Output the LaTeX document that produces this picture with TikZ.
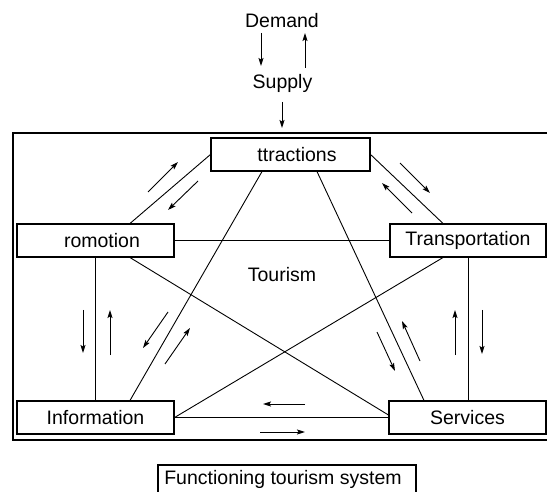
\documentclass[tikz,border=0pt]{standalone}
\usepackage{fontspec}
\setmainfont{Liberation Sans}
\usetikzlibrary{arrows.meta}
\begin{document}
\begin{tikzpicture}[x=1pt,y=-1pt,
  every node/.style={font=\fontsize{19.5}{22}\selectfont, inner sep=0pt},
  sysbox/.style={draw, line width=1.1pt, minimum height=33pt},
  link/.style={line width=0.9pt},
  flow/.style={line width=0.9pt, -{Stealth[length=8pt,width=5pt,inset=1.5pt]}}]
\useasboundingbox (0,0) rectangle (547,492);
% outer frame (open to the right)
\draw[line width=1.1pt] (547,133) -- (13,133) -- (13,440) -- (547,440);
% boxes
\node[sysbox, minimum width=159pt] (att) at (290.5,154.5) {\hphantom{A}ttractions};
\node[sysbox, minimum width=157pt] (pro) at (95.5,240.5) {\hphantom{P}romotion};
\node[sysbox, minimum width=156pt] (tra) at (468,240.5) {Transportation};
\node[sysbox, minimum width=157pt] (inf) at (95.5,417.5) {Information};
\node[sysbox, minimum width=157pt] (ser) at (467.5,417.5) {Services};
% texts
\node[anchor=base] (dem) at (282,28) {Demand};
\node[anchor=base] (sup) at (282.5,89) {Supply};
\node[anchor=base] (tou) at (282,281.5) {Tourism};
\node[anchor=base] (fts) at (283,484.5) {Functioning tourism system};
\draw[line width=1.1pt] (158,492) -- (158,465) -- (416,465) -- (416,492);
% connectors
\draw[link] (att.west) -- ([xshift=34.5pt]pro.north);
\draw[link] (att.east) -- ([xshift=-25pt]tra.north);
\draw[link] ([xshift=-28.5pt]att.south) -- ([xshift=34.5pt]inf.north);
\draw[link] ([xshift=26.5pt]att.south) -- ([xshift=-43.5pt]ser.north);
\draw[link] (pro.east) -- (tra.west);
\draw[link] ([xshift=34.5pt]pro.south) -- ([yshift=2.5pt]ser.west);
\draw[link] (pro.south) -- (inf.north);
\draw[link] (tra.south) -- (tra.south |- ser.north);
\draw[link] ([xshift=-25pt]tra.south) -- (inf.east);
\draw[link] (inf.east) -- (ser.west);
% flow arrows
\draw[flow] (261,33) -- (261,66);
\draw[flow] (305,68) -- (305,33);
\draw[flow] (282,102) -- (282,128);
\draw[flow] (148,192) -- (178,162);
\draw[flow] (198,181) -- (168,210);
\draw[flow] (400,163) -- (430,193);
\draw[flow] (412,213) -- (382,183);
\draw[flow] (83,310) -- (83,353);
\draw[flow] (110,355) -- (110,310);
\draw[flow] (168,312) -- (143,348);
\draw[flow] (165,364) -- (190,328);
\draw[flow] (377,332) -- (395,371);
\draw[flow] (420,361) -- (402,321);
\draw[flow] (455,355) -- (455,310);
\draw[flow] (482,310) -- (482,354);
\draw[flow] (305,404) -- (263,404);
\draw[flow] (260,432) -- (305,432);
\end{tikzpicture}
\end{document}
